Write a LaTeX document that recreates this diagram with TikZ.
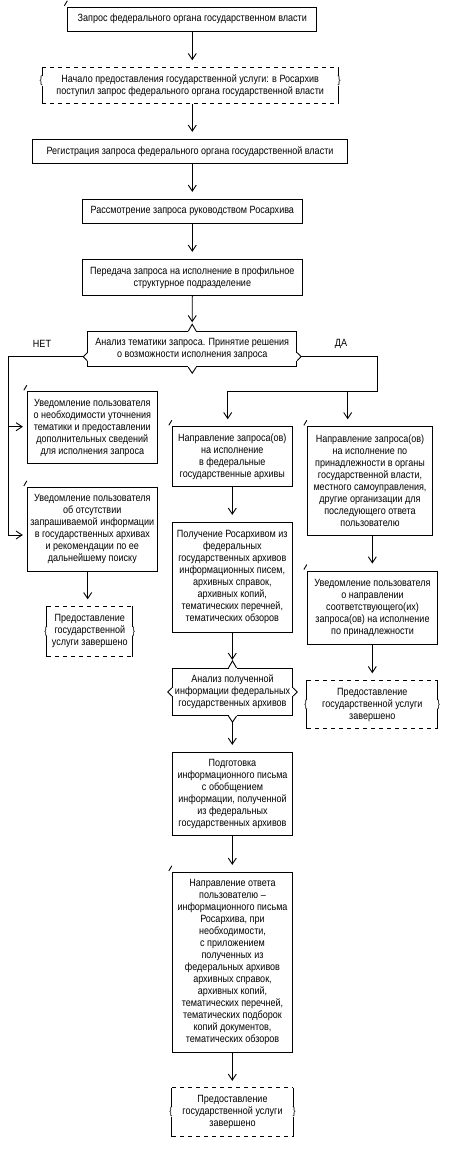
\documentclass[tikz,border=0pt]{standalone}
\usepackage{fontspec}
\setmainfont{Liberation Sans}[FakeStretch=0.86]
\usetikzlibrary{arrows.meta,positioning}

\newcommand{\fs}{\fontsize{10.5}{12}\selectfont}
% corner tick of the boxes
\newcommand{\slashmark}[1]{\draw ([shift={(-3pt,1pt)}]#1.north west) -- ++(3pt,5pt);}
% dashed start/end box with braces at the sides
\newcommand{\termbox}[2]{%
  \draw[dash pattern=on 4pt off 4pt] (#1.north west) -- (#1.north east) (#1.south west) -- (#1.south east);
  \draw (#1.north west) -- (#1.south west) (#1.north east) -- (#1.south east);
  \node[fill=white, inner sep=0pt, font=\fs] (#1-l) at ([shift={(-1pt,#2)}]#1.west) {\{};
  \node[fill=white, inner sep=0pt, font=\fs] (#1-r) at ([shift={(1pt,#2)}]#1.east) {\}};}
% chevrons of the decision boxes
\newcommand{\decmarks}[2]{%
  \draw[white, line width=2pt] ([xshift=-4pt]#1.north) -- ([xshift=4pt]#1.north)
    ([xshift=-4pt]#1.south) -- ([xshift=4pt]#1.south)
    ([yshift=#2-4pt]#1.west) -- ([yshift=#2+4pt]#1.west)
    ([yshift=#2-4pt]#1.east) -- ([yshift=#2+4pt]#1.east);
  \draw ([xshift=-4pt]#1.north) -- ([yshift=7pt]#1.north) -- ([xshift=4pt]#1.north)
    ([xshift=-4pt]#1.south) -- ([yshift=-6pt]#1.south) -- ([xshift=4pt]#1.south)
    ([yshift=#2+4pt]#1.west) -- ([shift={(-4pt,#2)}]#1.west) -- ([yshift=#2-4pt]#1.west)
    ([yshift=#2+4pt]#1.east) -- ([shift={(4pt,#2)}]#1.east) -- ([yshift=#2-4pt]#1.east);}

\begin{document}
\begin{tikzpicture}[x=1pt, y=-1pt, line width=0.9pt,
  box/.style={draw, align=center, inner sep=0pt, font=\fs},
  term/.style={align=center, inner sep=0pt, font=\fs},
  arr/.style={-{Straight Barb[length=6pt,width=8pt]}, shorten >=7pt}
]
  \useasboundingbox (0,0) rectangle (450,1151);

  % main column
  \node[box, minimum width=249pt, minimum height=24pt] (query) at (192.3,19.2)
    {Запрос федерального органа государственном власти};
  \node[term, minimum width=295pt, minimum height=35.6pt] (start) at (190.2,85.5)
    {Начало предоставления государственной услуги: в Росархив\\
     поступил запрос федерального органа государственной власти};
  \node[box, minimum width=315.4pt, minimum height=24pt] (reg) at (190,151.3)
    {Регистрация запроса федерального органа государственной власти};
  \node[box, minimum width=220pt, minimum height=24pt] (review) at (192.3,211.3)
    {Рассмотрение запроса руководством Росархива};
  \node[box, minimum width=220pt, minimum height=36pt] (pass) at (192.3,277.3)
    {Передача запроса на исполнение в профильное\\структурное подразделение};
  \node[box, minimum width=209pt, minimum height=35pt] (check) at (192.2,349.2)
    {Анализ тематики запроса. Принятие решения\\о возможности исполнения запроса};

  % answer NO
  \node[box, minimum width=130pt, minimum height=71.6pt] (clarify) at (92.3,427.5)
    {Уведомление пользователя\\о необходимости уточнения\\тематики и предоставлении\\
     дополнительных сведений\\для исполнения запроса};
  \node[box, minimum width=130pt, minimum height=83.7pt] (absent) at (92.3,529.2)
    {Уведомление пользователя\\об отсутствии\\запрашиваемой информации\\
     в государственных архивах\\и рекомендации по ее\\дальнейшему поиску};
  \node[term, minimum width=85pt, minimum height=49.3pt] (endno) at (89.8,631.4)
    {Предоставление\\государственной\\услуги завершено};

  % answer YES, federal archives
  \node[box, minimum width=120pt, minimum height=60pt] (tofed) at (232.3,456.7)
    {Направление запроса(ов)\\на исполнение\\в федеральные\\государственные архивы};
  \node[box, minimum width=120pt, minimum height=110pt] (getfed) at (232.3,577.3)
    {Получение Росархивом из\\федеральных\\государственных архивов\\информационных писем,\\
     архивных справок,\\архивных копий,\\тематических перечней,\\тематических обзоров};
  \node[box, minimum width=120.4pt, minimum height=47.4pt] (checkfed) at (232.5,692)
    {Анализ полученной\\информации федеральных\\государственных архивов};
  \node[box, minimum width=120.4pt, minimum height=83.4pt] (letter) at (232.5,794)
    {Подготовка\\информационного письма\\с обобщением\\информации, полученной\\
     из федеральных\\государственных архивов};
  \node[box, minimum width=120.4pt, minimum height=180pt] (reply) at (232.5,962.3)
    {Направление ответа\\пользователю –\\информационного письма\\Росархива, при\\
     необходимости,\\с приложением\\полученных из\\федеральных архивов\\
     архивных справок,\\архивных копий,\\тематических перечней,\\
     тематических подборок\\копий документов,\\тематических обзоров};
  \node[term, minimum width=120.4pt, minimum height=47.7pt] (endfed) at (232.5,1112.2)
    {Предоставление\\государственной услуги\\завершено};

  % answer YES, other bodies
  \node[box, minimum width=125.4pt, minimum height=108.3pt] (toother) at (370,480.9)
    {Направление запроса(ов)\\на исполнение по\\принадлежности в органы\\
     государственной власти,\\местного самоуправления,\\другие организации для\\
     последующего ответа\\пользователю};
  \node[box, minimum width=130.4pt, minimum height=73pt] (notify) at (372.5,607.5)
    {Уведомление пользователя\\о направлении\\соответствующего(их)\\
     запроса(ов) на исполнение\\по принадлежности};
  \node[term, minimum width=130pt, minimum height=47.6pt] (endother) at (372.3,704.5)
    {Предоставление\\государственной услуги\\завершено};

  \node[font=\fs] (no) at (42,344) {НЕТ};
  \node[font=\fs] (yes) at (341,344) {ДА};

  \foreach \b in {query,clarify,absent,tofed,toother,notify,reply}
    {\slashmark{\b}}
  \termbox{start}{4.5pt}
  \termbox{endno}{0pt}
  \termbox{endfed}{0pt}
  \termbox{endother}{0pt}
  \decmarks{check}{-7.5pt}
  \decmarks{checkfed}{0pt}

  \coordinate (col) at (192.3,0);
  \draw[arr] (query.south) -- (col |- start.north);
  \draw[arr] (col |- start.south) -- (col |- reg.north);
  \draw[arr] (col |- reg.south) -- (col |- review.north);
  \draw[arr] (review.south) -- (pass.north);
  \draw[arr, shorten >=9pt] (pass.south) -- (check.north);

  % NO branch
  \coordinate (noout) at ([shift={(-4pt,-7.5pt)}]check.west);
  \coordinate (nodown) at (8.3,535);
  \coordinate (nomid) at (8.3,426.7);
  \draw[arr, shorten >=4pt] (noout) -| (nodown) -- (nodown -| absent.west);
  \draw[arr, shorten >=4pt] (nomid) -- (nomid -| clarify.west);
  \draw[arr] ([xshift=-4.6pt]absent.south) -- ([xshift=-2.1pt]endno.north);

  % YES branch
  \coordinate (yesout) at ([shift={(4pt,-7.5pt)}]check.east);
  \coordinate (yesturn) at (377.7,391);
  \coordinate (yesl) at (227.7,391);
  \coordinate (yesr) at (347.7,391);
  \draw (yesout) -| (yesturn) -- (yesl);
  \draw[arr] (yesl) -- (yesl |- tofed.north);
  \draw[arr] (yesr) -- (yesr |- toother.north);

  \draw[arr] (tofed.south) -- (getfed.north);
  \draw[arr, shorten >=8pt] (getfed.south) -- (getfed.south |- checkfed.north);
  \draw[arr, shorten <=6pt] (getfed.south |- checkfed.south) -- (getfed.south |- letter.north);
  \draw[arr] (getfed.south |- letter.south) -- (getfed.south |- reply.north);
  \draw[arr] (getfed.south |- reply.south) -- (getfed.south |- endfed.north);

  \coordinate (rcol) at (372.3,0);
  \draw[arr] (rcol |- toother.south) -- (rcol |- notify.north);
  \draw[arr] (rcol |- notify.south) -- (rcol |- endother.north);
\end{tikzpicture}
\end{document}
